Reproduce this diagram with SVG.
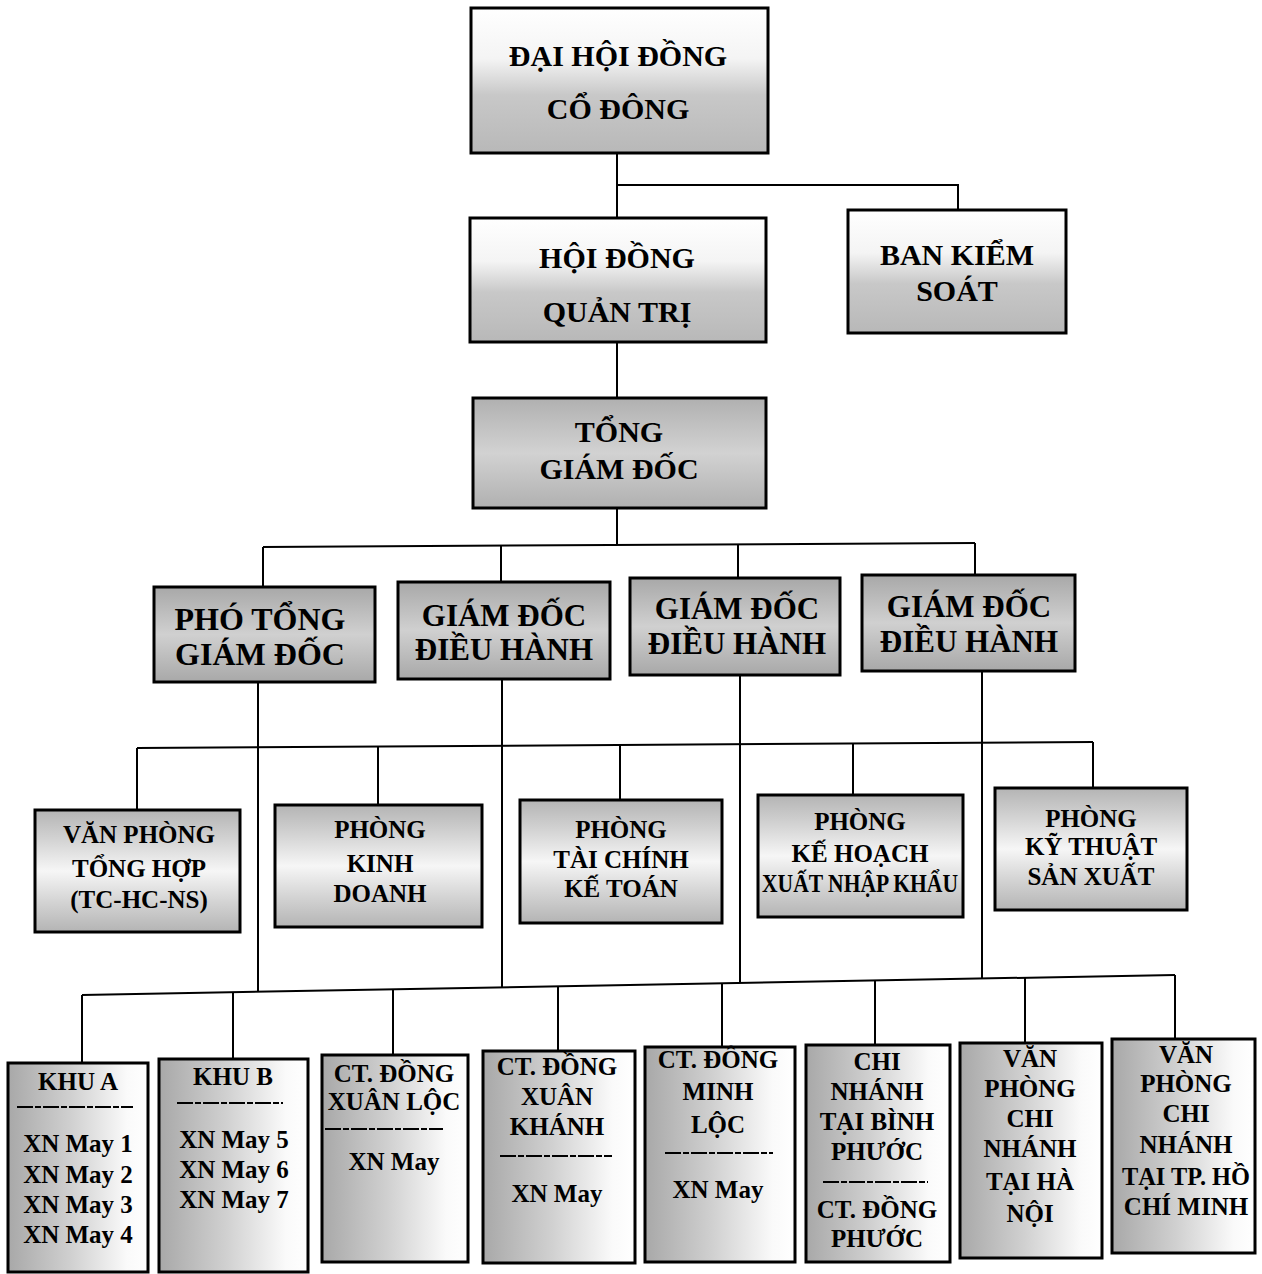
<svg xmlns="http://www.w3.org/2000/svg" width="1262" height="1274" viewBox="0 0 1262 1274">
<style>
.box{stroke:#000;stroke-width:3}
text{font-family:'Liberation Serif','DejaVu Serif',serif;font-weight:bold;text-anchor:middle;fill:#000}
.f28{font-size:30px}.f30{font-size:30px}.f33{font-size:32px}.f31{font-size:31px}.f25{font-size:25px}
.c{stroke:#000;stroke-width:2;fill:none}
.sep{stroke:#000;stroke-width:2;stroke-dasharray:16 2 6 2}
</style>
<defs>
<linearGradient id="gTop" x1="0" y1="0" x2="0" y2="1">
<stop offset="0" stop-color="#fff"/><stop offset="0.35" stop-color="#f4f4f4"/><stop offset="0.6" stop-color="#c8c8c8"/><stop offset="1" stop-color="#b8b8b8"/>
</linearGradient>
<linearGradient id="gTgd" x1="0" y1="0" x2="0" y2="1">
<stop offset="0" stop-color="#b0b0b0"/><stop offset="0.5" stop-color="#d2d2d2"/><stop offset="1" stop-color="#b0b0b0"/>
</linearGradient>
<linearGradient id="gRow2" x1="0" y1="0" x2="0" y2="1">
<stop offset="0" stop-color="#a8a8a8"/><stop offset="0.5" stop-color="#d0d0d0"/><stop offset="1" stop-color="#a8a8a8"/>
</linearGradient>
<linearGradient id="gRow3" x1="0" y1="0" x2="0" y2="1">
<stop offset="0" stop-color="#b4b4b4"/><stop offset="0.25" stop-color="#d4d4d4"/><stop offset="0.5" stop-color="#f6f6f6"/><stop offset="0.75" stop-color="#d4d4d4"/><stop offset="1" stop-color="#b4b4b4"/>
</linearGradient>
<linearGradient id="gBot" x1="0" y1="0" x2="1" y2="0">
<stop offset="0" stop-color="#a8a8a8"/><stop offset="0.45" stop-color="#d0d0d0"/><stop offset="0.85" stop-color="#fafafa"/><stop offset="1" stop-color="#fff"/>
</linearGradient>
</defs>
<rect width="1262" height="1274" fill="#fff"/>

<g id="connectors">
<polyline class="c" points="617,153 617,218"/>
<polyline class="c" points="617,185 958,185 958,210"/>
<polyline class="c" points="617,342 617,398"/>
<polyline class="c" points="617,508 617,545"/>
<polyline class="c" points="263,547 975,543"/>
<polyline class="c" points="263,547 263,587"/>
<polyline class="c" points="501,546 501,582"/>
<polyline class="c" points="738,544 738,578"/>
<polyline class="c" points="975,543 975,575"/>
<polyline class="c" points="258,683 258,992"/>
<polyline class="c" points="502,680 502,987"/>
<polyline class="c" points="740,675 740,983"/>
<polyline class="c" points="982,671 982,978"/>
<polyline class="c" points="137,748 1093,742"/>
<polyline class="c" points="137,748 137,810"/>
<polyline class="c" points="378,747 378,805"/>
<polyline class="c" points="620,745 620,800"/>
<polyline class="c" points="853,744 853,795"/>
<polyline class="c" points="1093,742 1093,788"/>
<polyline class="c" points="82,995 1175,975"/>
<polyline class="c" points="82,995 82,1063"/>
<polyline class="c" points="233,992 233,1059"/>
<polyline class="c" points="393,989 393,1055"/>
<polyline class="c" points="558,986 558,1051"/>
<polyline class="c" points="722,983 722,1047"/>
<polyline class="c" points="875,981 875,1045"/>
<polyline class="c" points="1025,978 1025,1043"/>
<polyline class="c" points="1175,975 1175,1039"/>
</g>

<g id="dhdcd">
<rect class="box" x="471" y="8" width="297" height="145" fill="url(#gTop)"/>
<text class="f28" x="618" y="66">ĐẠI HỘI ĐỒNG</text>
<text class="f28" x="618" y="119">CỔ ĐÔNG</text>
</g>
<g id="hdqt">
<rect class="box" x="470" y="218" width="296" height="124" fill="url(#gTop)"/>
<text class="f30" x="617" y="268">HỘI ĐỒNG</text>
<text class="f30" x="617" y="322">QUẢN TRỊ</text>
</g>
<g id="bks">
<rect class="box" x="848" y="210" width="218" height="123" fill="url(#gTop)"/>
<text class="f30" x="957" y="265">BAN KIỂM</text>
<text class="f30" x="957" y="301">SOÁT</text>
</g>
<g id="tgd">
<rect class="box" x="473" y="398" width="293" height="110" fill="url(#gTgd)"/>
<text class="f30" x="619" y="442">TỔNG</text>
<text class="f30" x="619" y="479">GIÁM ĐỐC</text>
</g>

<g id="ptgd">
<rect class="box" x="154" y="587" width="221" height="95" fill="url(#gRow2)"/>
<text class="f33" x="260" y="630">PHÓ TỔNG</text>
<text class="f33" x="260" y="665">GIÁM ĐỐC</text>
</g>
<g id="gddh1">
<rect class="box" x="398" y="582" width="212" height="97" fill="url(#gRow2)"/>
<text class="f31" x="504" y="626">GIÁM ĐỐC</text>
<text class="f31" x="504" y="660">ĐIỀU HÀNH</text>
</g>
<g id="gddh2">
<rect class="box" x="630" y="578" width="210" height="97" fill="url(#gRow2)"/>
<text class="f31" x="737" y="619">GIÁM ĐỐC</text>
<text class="f31" x="737" y="654">ĐIỀU HÀNH</text>
</g>
<g id="gddh3">
<rect class="box" x="862" y="575" width="213" height="96" fill="url(#gRow2)"/>
<text class="f31" x="969" y="617">GIÁM ĐỐC</text>
<text class="f31" x="969" y="652">ĐIỀU HÀNH</text>
</g>

<g id="vpth">
<rect class="box" x="35" y="810" width="205" height="122" fill="url(#gRow3)"/>
<text class="f25" x="139" y="843">VĂN PHÒNG</text>
<text class="f25" x="139" y="877">TỔNG HỢP</text>
<text class="f25" x="139" y="908">(TC-HC-NS)</text>
</g>
<g id="pkd">
<rect class="box" x="275" y="805" width="207" height="122" fill="url(#gRow3)"/>
<text class="f25" x="380" y="838">PHÒNG</text>
<text class="f25" x="380" y="872">KINH</text>
<text class="f25" x="380" y="902">DOANH</text>
</g>
<g id="ptckt">
<rect class="box" x="520" y="800" width="202" height="123" fill="url(#gRow3)"/>
<text class="f25" x="621" y="838">PHÒNG</text>
<text class="f25" x="621" y="868">TÀI CHÍNH</text>
<text class="f25" x="621" y="897">KẾ TOÁN</text>
</g>
<g id="pkhxnk">
<rect class="box" x="758" y="795" width="205" height="122" fill="url(#gRow3)"/>
<text class="f25" x="860" y="830">PHÒNG</text>
<text class="f25" x="860" y="862">KẾ HOẠCH</text>
<text class="f25" x="860" y="892" textLength="196" lengthAdjust="spacingAndGlyphs">XUẤT NHẬP KHẨU</text>
</g>
<g id="pktsx">
<rect class="box" x="995" y="788" width="192" height="122" fill="url(#gRow3)"/>
<text class="f25" x="1091" y="827">PHÒNG</text>
<text class="f25" x="1091" y="855">KỸ THUẬT</text>
<text class="f25" x="1091" y="885">SẢN XUẤT</text>
</g>

<g id="khua">
<rect class="box" x="8" y="1063" width="140" height="209" fill="url(#gBot)"/>
<text class="f25" x="78" y="1090">KHU A</text>
<line class="sep" x1="17" y1="1107" x2="133" y2="1107"/>
<text class="f25" x="78" y="1152">XN May 1</text>
<text class="f25" x="78" y="1183">XN May 2</text>
<text class="f25" x="78" y="1213">XN May 3</text>
<text class="f25" x="78" y="1243">XN May 4</text>
</g>
<g id="khub">
<rect class="box" x="159" y="1059" width="149" height="213" fill="url(#gBot)"/>
<text class="f25" x="233" y="1085">KHU B</text>
<line class="sep" x1="177" y1="1103" x2="283" y2="1103"/>
<text class="f25" x="234" y="1148">XN May 5</text>
<text class="f25" x="234" y="1178">XN May 6</text>
<text class="f25" x="234" y="1208">XN May 7</text>
</g>
<g id="ctxl">
<rect class="box" x="322" y="1055" width="146" height="207" fill="url(#gBot)"/>
<text class="f25" x="394" y="1082">CT. ĐỒNG</text>
<text class="f25" x="394" y="1110">XUÂN LỘC</text>
<line class="sep" x1="325" y1="1129" x2="443" y2="1129"/>
<text class="f25" x="394" y="1170">XN May</text>
</g>
<g id="ctxk">
<rect class="box" x="483" y="1051" width="152" height="212" fill="url(#gBot)"/>
<text class="f25" x="557" y="1075">CT. ĐỒNG</text>
<text class="f25" x="557" y="1105">XUÂN</text>
<text class="f25" x="557" y="1135">KHÁNH</text>
<line class="sep" x1="500" y1="1156" x2="612" y2="1156"/>
<text class="f25" x="557" y="1202">XN May</text>
</g>
<g id="ctml">
<rect class="box" x="645" y="1047" width="150" height="215" fill="url(#gBot)"/>
<text class="f25" x="718" y="1068">CT. ĐÔNG</text>
<text class="f25" x="718" y="1100">MINH</text>
<text class="f25" x="718" y="1133">LỘC</text>
<line class="sep" x1="665" y1="1153" x2="773" y2="1153"/>
<text class="f25" x="718" y="1198">XN May</text>
</g>
<g id="cnbp">
<rect class="box" x="806" y="1045" width="144" height="217" fill="url(#gBot)"/>
<text class="f25" x="877" y="1070">CHI</text>
<text class="f25" x="877" y="1100">NHÁNH</text>
<text class="f25" x="877" y="1130">TẠI BÌNH</text>
<text class="f25" x="877" y="1160">PHƯỚC</text>
<line class="sep" x1="823" y1="1182" x2="928" y2="1182"/>
<text class="f25" x="877" y="1218">CT. ĐỒNG</text>
<text class="f25" x="877" y="1247">PHƯỚC</text>
</g>
<g id="vphn">
<rect class="box" x="960" y="1043" width="142" height="215" fill="url(#gBot)"/>
<text class="f25" x="1030" y="1067">VĂN</text>
<text class="f25" x="1030" y="1097">PHÒNG</text>
<text class="f25" x="1030" y="1127">CHI</text>
<text class="f25" x="1030" y="1157">NHÁNH</text>
<text class="f25" x="1030" y="1190">TẠI HÀ</text>
<text class="f25" x="1030" y="1222">NỘI</text>
</g>
<g id="vphcm">
<rect class="box" x="1112" y="1039" width="143" height="214" fill="url(#gBot)"/>
<text class="f25" x="1186" y="1063">VĂN</text>
<text class="f25" x="1186" y="1092">PHÒNG</text>
<text class="f25" x="1186" y="1122">CHI</text>
<text class="f25" x="1186" y="1153">NHÁNH</text>
<text class="f25" x="1186" y="1185" textLength="128" lengthAdjust="spacingAndGlyphs">TẠI TP. HỒ</text>
<text class="f25" x="1186" y="1215">CHÍ MINH</text>
</g>
</svg>
